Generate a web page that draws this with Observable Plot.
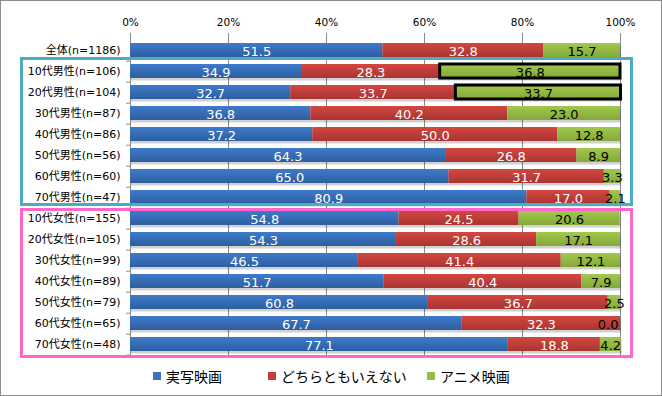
<!DOCTYPE html>
<html><head><meta charset="utf-8">
<script src="https://cdn.jsdelivr.net/npm/d3@7"></script>
<script src="https://cdn.jsdelivr.net/npm/@observablehq/plot@0.6"></script>
<style>
body{margin:0;background:#fff;}
#wrap{position:relative;width:662px;height:396px;overflow:hidden;font-family:"DejaVu Sans","Noto Sans CJK JP",sans-serif;}
#border{position:absolute;left:0;top:0;width:660px;height:394px;border:1px solid #8c8c8c;pointer-events:none;}
.box{position:absolute;box-sizing:border-box;border:3px solid;pointer-events:none;}
#legend{position:absolute;left:0;top:360px;width:662px;height:36px;font-family:"Noto Sans CJK JP",sans-serif;font-size:14px;color:#000;}
#legend span.item{position:absolute;top:6px;display:flex;align-items:center;white-space:nowrap;}
#legend span.sw{display:inline-block;width:8px;height:8px;margin-right:5px;}
#chart{position:absolute;left:0;top:0;}
</style>
</head><body>
<div id="wrap">
  <div id="chart"></div>
  <div id="legend"></div>
  <div class="box" style="left:20px;top:57px;width:613px;height:149px;border-color:#4BACC6;"></div>
  <div class="box" style="left:20px;top:208px;width:613px;height:150px;border-color:#FF66CC;"></div>
  <div id="border"></div>
</div>
<script>
const categories = ["全体(n=1186)","10代男性(n=106)","20代男性(n=104)","30代男性(n=87)","40代男性(n=86)","50代男性(n=56)","60代男性(n=60)","70代男性(n=47)","10代女性(n=155)","20代女性(n=105)","30代女性(n=99)","40代女性(n=89)","50代女性(n=79)","60代女性(n=65)","70代女性(n=48)"];
const seriesNames = ["実写映画","どちらともいえない","アニメ映画"];
const liveAction = [51.5,34.9,32.7,36.8,37.2,64.3,65.0,80.9,54.8,54.3,46.5,51.7,60.8,67.7,77.1];
const neither    = [32.8,28.3,33.7,40.2,50.0,26.8,31.7,17.0,24.5,28.6,41.4,40.4,36.7,32.3,18.8];
const anime      = [15.7,36.8,33.7,23.0,12.8,8.9,3.3,2.1,20.6,17.1,12.1,7.9,2.5,0.0,4.2];
const highlighted = ["10代男性(n=106)","20代男性(n=104)"];
const xTicks = [0,20,40,60,80,100];

const seriesColors = ["#3A73C0","#C43F3C","#97BC48"];
const gradIds = ["gBlue","gRed","gGreen"];

const data = [];
categories.forEach((c,i)=>{
  [liveAction,neither,anime].forEach((arr,s)=>{
    data.push({cat:c, series:seriesNames[s], value:arr[i]});
  });
});

const totals = categories.map((c,i)=>({cat:c, total: liveAction[i]+neither[i]+anime[i]}));
const labelFill = d=>d.series==="アニメ映画" ? "#000" : "#fff";

const step = 320/15;
const chart = Plot.plot({
  width: 662, height: 360,
  marginLeft: 130, marginRight: 42, marginTop: 37, marginBottom: 3,
  style: {fontFamily: "DejaVu Sans, Noto Sans CJK JP, sans-serif", background: "transparent"},
  x: {domain: [0,100], axis: null},
  y: {domain: categories, paddingInner: 0.32, paddingOuter: 0.16, axis: null, label: null},
  color: {domain: seriesNames, range: gradIds.map(id=>`url(#${id})`)},
  marks: [
    Plot.ruleX(xTicks.filter(d=>d>0), {stroke:"#8a8a8a", strokeWidth:1, insetTop:-4}),
    Plot.ruleX([0], {stroke:"#8a8a8a", strokeWidth:1, insetTop:-4}),
    Plot.axisX({anchor:"top", ticks: xTicks, tickSize:0, tickPadding:12, tickFormat:d=>d+"%", fontSize:10.5, fill:"#000", label:null}),
    Plot.axisY({anchor:"left", tickSize:4, stroke:"#8a8a8a", text:null, dy: step/2, label:null}),
    Plot.axisY({anchor:"left", tickSize:0, tickPadding:10, fontSize:11, fill:"#000", label:null}),
    Plot.barX(totals, {x1:0, x2:"total", y:"cat", fill:"#000", fillOpacity:0.18, dy:2.5, dx:1}),
    Plot.barX(data, Plot.stackX({x:"value", y:"cat", fill:"series", order: seriesNames})),
    Plot.barX(data.filter(d=>d.series==="アニメ映画" && highlighted.includes(d.cat)),
      {x1: d=>{const i=categories.indexOf(d.cat); return liveAction[i]+neither[i];},
       x2: d=>{const i=categories.indexOf(d.cat); return liveAction[i]+neither[i]+anime[i];},
       y:"cat", fill:"none", stroke:"#000", strokeWidth:3}),
    Plot.text(data, Plot.stackX({x:"value", y:"cat", order: seriesNames,
      text: d=>d.value > 0 ? d.value.toFixed(1) : null,
      fill: labelFill, fontSize: 13, dy: 1.5})),
    Plot.text(data.filter(d=>d.value===0), {
      x: d=>{const i=categories.indexOf(d.cat); return liveAction[i]+neither[i];},
      y:"cat", text: d=>d.value.toFixed(1), fill: labelFill, fontSize: 13, dy: 1.5,
      textAnchor:"end", dx:-2})
  ]
});

// gradient defs
const svgNS = "http://www.w3.org/2000/svg";
const defs = document.createElementNS(svgNS,"defs");
const stops = [["#3E7BCB","#2E5E9F"],["#D4463F","#A93532"],["#A2C84C","#84A83A"]];
gradIds.forEach((id,k)=>{
  const g = document.createElementNS(svgNS,"linearGradient");
  g.setAttribute("id",id); g.setAttribute("x1","0"); g.setAttribute("y1","0"); g.setAttribute("x2","0"); g.setAttribute("y2","1");
  [[0,stops[k][0]],[1,stops[k][1]]].forEach(([o,c])=>{
    const s = document.createElementNS(svgNS,"stop");
    s.setAttribute("offset",o); s.setAttribute("stop-color",c);
    g.appendChild(s);
  });
  defs.appendChild(g);
});
chart.insertBefore(defs, chart.firstChild);
document.getElementById("chart").appendChild(chart);

// legend
const legendX = [153, 268, 427];
const legend = document.getElementById("legend");
seriesNames.forEach((name,k)=>{
  const it = document.createElement("span");
  it.className = "item";
  it.style.left = legendX[k]+"px";
  const sw = document.createElement("span");
  sw.className = "sw"; sw.style.background = seriesColors[k];
  it.appendChild(sw);
  it.appendChild(document.createTextNode(name));
  legend.appendChild(it);
});
</script>
</body></html>
